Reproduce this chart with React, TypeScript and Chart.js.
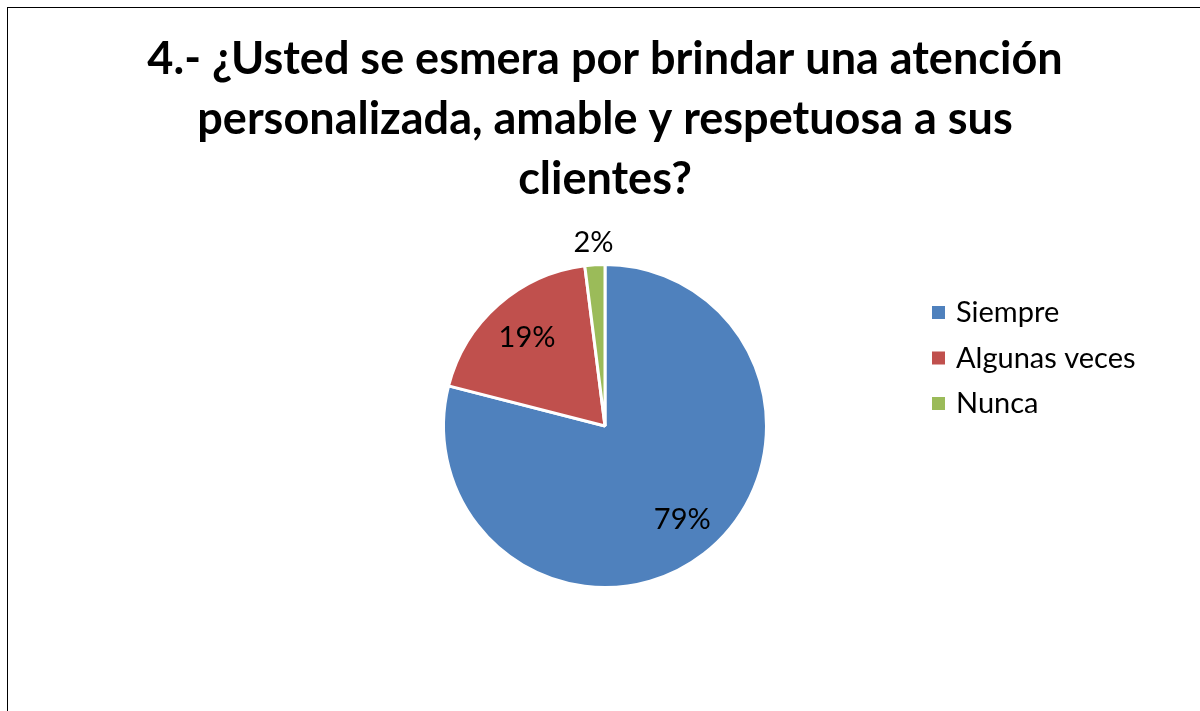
import React, { useEffect, useRef } from "react";
import { Chart, registerables } from "chart.js";

Chart.register(...registerables);

const titleLines = [
  "4.- ¿Usted se esmera por brindar una atención",
  "personalizada, amable y respetuosa a sus",
  "clientes?",
];
const categories = ["Siempre", "Algunas veces", "Nunca"];
const values = [79, 19, 2];
const colors = ["#4F81BD", "#C0504D", "#9BBB59"];

const FONT = "Lato, 'Open Sans', sans-serif";

const pieLabels = {
  id: "pieLabels",
  afterDatasetsDraw(chart: any) {
    const ctx = chart.ctx;
    const meta = chart.getDatasetMeta(0);
    const data = chart.data.datasets[0].data as number[];
    const total = data.reduce((a, b) => a + b, 0);
    ctx.save();
    ctx.fillStyle = "#000";
    ctx.font = `29px ${FONT}`;
    ctx.textAlign = "center";
    ctx.textBaseline = "middle";
    meta.data.forEach((arc: any, i: number) => {
      const { x, y, startAngle, endAngle, outerRadius } = arc.getProps(
        ["x", "y", "startAngle", "endAngle", "outerRadius"],
        true
      );
      const mid = (startAngle + endAngle) / 2;
      const frac = data[i] / total;
      const dist = frac > 0.05 ? outerRadius * 0.73 : outerRadius + 22;
      const pct = Math.round(frac * 100) + "%";
      ctx.fillText(pct, x + Math.cos(mid) * dist + (frac > 0.5 ? 5 : 0), y + Math.sin(mid) * dist);
    });
    ctx.restore();
  },
};

const sideLegend = {
  id: "sideLegend",
  afterDraw(chart: any) {
    const ctx = chart.ctx;
    const labels = chart.data.labels as string[];
    const bg = chart.data.datasets[0].backgroundColor as string[];
    const left = 932;
    const top = 312;
    const step = 45.5;
    ctx.save();
    ctx.font = `29px ${FONT}`;
    ctx.textBaseline = "middle";
    ctx.textAlign = "left";
    labels.forEach((lab, i) => {
      const cy = top + i * step;
      ctx.fillStyle = bg[i];
      ctx.fillRect(left, cy - 6, 13, 13);
      ctx.fillStyle = "#000";
      ctx.fillText(lab, left + 24, cy + 1);
    });
    ctx.restore();
  },
};

export default function App() {
  const ref = useRef<HTMLCanvasElement>(null);
  useEffect(() => {
    if (!ref.current) return;
    const chart = new Chart(ref.current, {
      type: "pie",
      data: {
        labels: categories,
        datasets: [
          {
            data: values,
            backgroundColor: colors,
            borderColor: "#FFFFFF",
            borderWidth: 3,
          },
        ],
      },
      options: {
        animation: false,
        responsive: false,
        layout: { padding: { left: 10, right: 0, top: 0, bottom: 122 } },
        plugins: {
          legend: { display: false },
          tooltip: { enabled: false },
          title: {
            display: true,
            text: titleLines,
            color: "#000",
            font: { family: FONT, size: 45, weight: "bold", lineHeight: "60px" },
            padding: { top: 29, bottom: 54 },
          },
        },
      },
      plugins: [pieLabels, sideLegend],
    });
    return () => chart.destroy();
  }, []);
  return (
    <div style={{ position: "fixed", left: 0, top: 0, width: 1200, height: 711, overflow: "hidden", background: "#fff" }}>
      <div style={{ position: "absolute", left: 7, top: 7, width: 1300, height: 800, border: "1px solid #000" }} />
      <canvas ref={ref} width={1200} height={711} style={{ position: "absolute", left: 0, top: 0, width: 1200, height: 711 }} />
    </div>
  );
}
